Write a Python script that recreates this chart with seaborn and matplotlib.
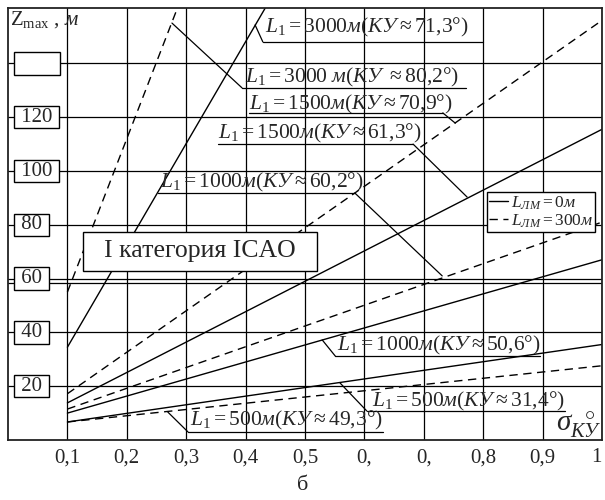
import numpy as np
import pandas as pd
import matplotlib
matplotlib.use('Agg')
import matplotlib.pyplot as plt
import seaborn as sns
from matplotlib.lines import Line2D

# Z_max vs sigma_KY, straight lines starting at sigma = 0.1
l1_values = [3000, 1500, 1000, 500]
sigma_start = [0.1, 0.1, 0.1, 0.1]
# L_LM = 0 m (solid)
sigma_end_solid = [0.45, 1.0, 1.0, 1.0]
z_start_solid = [34.5, 13.8, 10.0, 6.7]
z_end_solid = [167, 115.5, 67, 35.5]
# L_LM = 300 m (dashed)
sigma_end_dashed = [0.3, 1.0, 1.0, 1.0]
z_start_dashed = [55, 17.2, 11.5, 6.7]
z_end_dashed = [169, 156, 81, 27.6]

x_ticks = [0.1, 0.2, 0.3, 0.4, 0.5, 0.6, 0.7, 0.8, 0.9, 1.0]
x_tick_labels = ['0,1', '0,2', '0,3', '0,4', '0,5', '0,', '0,', '0,8', '0,9', '1']
y_ticks = [20, 40, 60, 80, 100, 120, 140]
y_tick_labels = ['20', '40', '60', '80', '100', '120', '']

rows = []
for i, l1 in enumerate(l1_values):
    for s, z in zip([sigma_start[i], sigma_end_solid[i]], [z_start_solid[i], z_end_solid[i]]):
        rows.append({'sigma': s, 'z': z, 'curve': f'{l1}-0', 'llm': '0'})
    for s, z in zip([sigma_start[i], sigma_end_dashed[i]], [z_start_dashed[i], z_end_dashed[i]]):
        rows.append({'sigma': s, 'z': z, 'curve': f'{l1}-300', 'llm': '300'})
df = pd.DataFrame(rows)

sns.set_theme(style='white')
plt.rcParams['font.family'] = ['Liberation Serif', 'DejaVu Serif']
plt.rcParams['mathtext.fontset'] = 'custom'
plt.rcParams['mathtext.rm'] = 'Liberation Serif'
plt.rcParams['mathtext.it'] = 'Liberation Serif:italic'
plt.rcParams['mathtext.bf'] = 'Liberation Serif:bold'

fig = plt.figure(figsize=(6.05, 5), dpi=100)
ax = fig.add_axes([8 / 605, 60 / 500, 594 / 605, 432 / 500])

sns.lineplot(data=df, x='sigma', y='z', units='curve', style='llm',
             dashes={'0': '', '300': (6, 4)}, color='black', estimator=None,
             legend=False, linewidth=1.0, ax=ax)

ax.set_xlim(0, 1)
ax.set_ylim(0, 160.6)
ax.set_xticks(x_ticks)
ax.set_xticklabels(x_tick_labels)
ax.set_yticks(y_ticks)
ax.set_yticklabels([])
ax.tick_params(axis='x', length=0, pad=6, labelsize=15)
ax.tick_params(axis='y', length=0)
ax.get_xticklabels()[-1].set_horizontalalignment('right')
ax.set_xlabel('')
ax.set_ylabel('')
ax.grid(True, color='black', linewidth=0.9)
ax.axhline(58.5, color='black', linewidth=0.9)
for sp in ax.spines.values():
    sp.set_color('#222222')
    sp.set_linewidth(1.3)

# boxed y tick labels
for v, lab in zip(y_ticks, y_tick_labels):
    txt = f' {lab} ' if lab else ' \u2007\u2007\u2007 '
    ax.text(0.0135, v, txt, fontsize=15, ha='left', va='center', zorder=5,
            bbox=dict(boxstyle='square,pad=0.08', fc='white', ec='black', lw=1.0))

ax.text(0.003, 156.3, r'$\mathrm{Z}_{\mathrm{max}}\ ,\,м$', fontsize=15,
        ha='left', va='center')
ax.text(0.922, 5.5, r'$\sigma_{КУ}^{\ \ \circ}$', fontsize=21, ha='left', va='center')
fig.text(303 / 605, 1 - 486 / 500, 'б', fontsize=16, ha='center', va='center')

# ICAO category box
ax.text(0.323, 70.1, '  I категория ICAO  ', fontsize=18.5, ha='center', va='center', zorder=5,
        bbox=dict(boxstyle='square,pad=0.32', fc='white', ec='black', lw=1.0))

# callouts: text, text pos, underline x-range and y, leader start/end
callouts = [
    (r'$L_1 = 3000м(КУ \approx 71{,}3°)$', (0.433, 153.2), (0.429, 0.800, 148.0), ((0.416, 154.3), (0.429, 148.0))),
    (r'$L_1 = 3000\ м(КУ\ \approx 80{,}2°)$', (0.399, 134.6), (0.394, 0.771, 130.9), ((0.276, 155.0), (0.394, 130.9))),
    (r'$L_1 = 1500м(КУ \approx 70{,}9°)$', (0.406, 124.9), (0.406, 0.732, 121.6), ((0.753, 117.8), (0.732, 121.6))),
    (r'$L_1 = 1500м(КУ \approx 61{,}3°)$', (0.354, 113.8), (0.354, 0.682, 110.0), ((0.773, 90.3), (0.682, 110.0))),
    (r'$L_1 = 1000м(КУ \approx 60{,}2°)$', (0.256, 95.9), (0.253, 0.584, 91.8), ((0.731, 61.0), (0.584, 91.8))),
    (r'$L_1 = 1000м(КУ \approx 50{,}6°)$', (0.554, 35.3), (0.551, 0.896, 31.2), ((0.529, 37.2), (0.551, 31.2))),
    (r'$L_1 = 500м(КУ \approx 31{,}4°)$', (0.613, 14.5), (0.604, 0.938, 10.8), ((0.559, 21.2), (0.604, 10.8))),
    (r'$L_1 = 500м(КУ \approx 49{,}3°)$', (0.306, 7.1), (0.303, 0.631, 3.0), ((0.269, 10.4), (0.303, 3.0))),
]
for text, (tx, ty), (u0, u1, uy), (p0, p1) in callouts:
    ax.text(tx, ty, text, fontsize=15.5, ha='left', va='center', zorder=4)
    ax.plot([u0, u1], [uy, uy], color='black', lw=0.9, zorder=4)
    ax.plot([p0[0], p1[0]], [p0[1], p1[1]], color='black', lw=0.9, zorder=4)

handles = [Line2D([], [], color='black', lw=1.0),
           Line2D([], [], color='black', lw=1.0, dashes=(6, 4))]
leg = ax.legend(handles, [r'$L_{ЛМ} = 0м$', r'$L_{ЛМ} = 300м$'],
                loc='upper left', bbox_to_anchor=(0.806, 0.574), fontsize=12.5,
                frameon=True, fancybox=False, edgecolor='black', framealpha=1,
                handlelength=1.1, handletextpad=0.15, borderpad=0.12,
                labelspacing=0.05, borderaxespad=0)
leg.get_frame().set_linewidth(1.0)
leg.set_zorder(6)

fig.savefig('out.png', dpi=100)
